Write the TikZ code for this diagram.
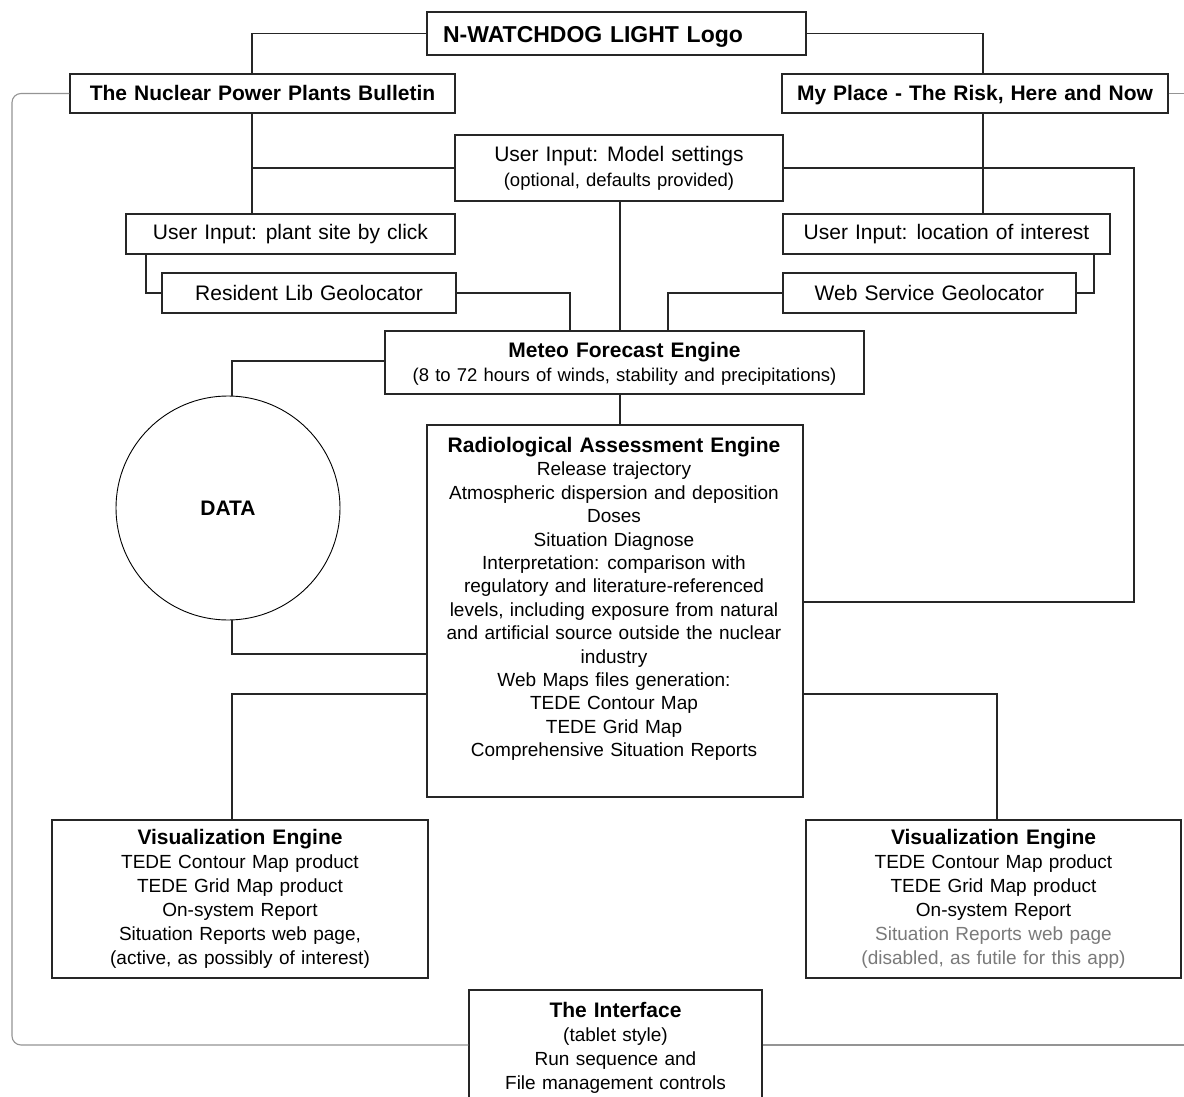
\documentclass[tikz,border=0pt]{standalone}
\usepackage{fontspec}
\setmainfont{Liberation Sans}[WordSpace={1.2}]
\begin{document}
\begin{tikzpicture}[x=1pt,y=-1pt,
  box/.style={draw=black!85, line width=1.3pt, fill=white, inner sep=0pt, align=center,
    font=\fontsize{21}{25}\selectfont},
  btitle/.style={box, font=\bfseries\fontsize{21}{25}\selectfont, text height=16.5pt, text depth=2.5pt},
  txt/.style={inner sep=0pt, align=center, font=\fontsize{19}{23.4}\selectfont},
  vtxt/.style={txt, font=\fontsize{19}{24}\selectfont},
  conn/.style={draw=black!85, line width=1.3pt},
  loopline/.style={draw=black!42, line width=1.1pt},
  databox/.style={circle, draw=black, line width=0.9pt, fill=white, inner sep=0pt,
    font=\bfseries\fontsize{21}{25}\selectfont}
]
\useasboundingbox (0,0) rectangle (1184,1097);
\clip (0,0) rectangle (1184,1097);
\fill[white] (0,0) rectangle (1184,1097);

% helper coordinates for connector bends
\coordinate (xBul) at (252,0);
\coordinate (xMP) at (983,0);
\coordinate (xPlant) at (146,0);
\coordinate (xRes) at (570,0);
\coordinate (xWeb) at (668,0);
\coordinate (xLoc) at (1094,0);
\coordinate (xMod) at (620,0);
\coordinate (xData) at (232,0);
\coordinate (xVisR) at (997,0);
\coordinate (kRight) at (1134,602);
\coordinate (yMet) at (0,361);
\coordinate (yData) at (0,654);
\coordinate (yVis) at (0,694);
\coordinate (xLoop) at (12,0);
\coordinate (yBot) at (0,1045);
\coordinate (edgeR) at (1190,0);

% boxes
\node[btitle, font=\bfseries\fontsize{23}{27}\selectfont, text height=19.5pt, text depth=1.5pt, minimum width=379pt, minimum height=43pt] (logo) at (616.5,33.5) {N-WATCHDOG LIGHT Logo\hspace*{47pt}};
\node[btitle, minimum width=385pt, minimum height=39pt] (bull) at (262.5,93.5) {The Nuclear Power Plants Bulletin};
\node[btitle, minimum width=386pt, minimum height=39pt] (mp) at (975,93.5) {My Place - The Risk, Here and Now};
\node[box, minimum width=328pt, minimum height=66pt] (model) at (619,168) {User Input: Model settings\\ \fontsize{18.5}{22}\selectfont (optional, defaults provided)};
\node[box, minimum width=329pt, minimum height=40pt] (plant) at (290.5,234) {User Input: plant site by click};
\node[box, minimum width=294pt, minimum height=40pt] (res) at (309,293) {Resident Lib Geolocator};
\node[box, minimum width=327pt, minimum height=40pt] (loc) at (946.5,234) {User Input: location of interest};
\node[box, minimum width=293pt, minimum height=40pt] (web) at (929.5,293) {Web Service Geolocator};
\node[box, minimum width=479pt, minimum height=63pt] (meteo) at (624.5,362.5) {};
\node[txt] (meteotext) at (624.5,364) {\bfseries\fontsize{21}{25}\selectfont Meteo Forecast Engine\\ \mdseries\fontsize{18.5}{24}\selectfont (8 to 72 hours of winds, stability and precipitations)};
\node[databox, minimum size=224pt] (data) at (228,508) {DATA};
\node[box, minimum width=376pt, minimum height=372pt] (rad) at (615,611) {};
\node[txt, anchor=north] (radtext) at (614,437) {\bfseries\fontsize{21}{25}\selectfont Radiological Assessment Engine\\
 \mdseries\fontsize{19}{23.4}\selectfont Release trajectory\\ Atmospheric dispersion and deposition\\ Doses\\ Situation Diagnose\\
 Interpretation: comparison with\\ regulatory and literature-referenced\\
 levels, including exposure from natural\\ and artificial source outside the nuclear\\
 industry\\ Web Maps files generation:\\ TEDE Contour Map\\ TEDE Grid Map\\ Comprehensive Situation Reports};
\node[box, minimum width=376pt, minimum height=158pt] (visL) at (240,899) {};
\node[vtxt] (visLtext) at (240,899) {\bfseries\fontsize{21}{25}\selectfont Visualization Engine\\
 \mdseries\fontsize{19}{24}\selectfont TEDE Contour Map product\\ TEDE Grid Map product\\ On-system Report\\ Situation Reports web page,\\ (active, as possibly of interest)};
\node[box, minimum width=375pt, minimum height=158pt] (visR) at (993.5,899) {};
\node[vtxt] (visRtext) at (993.5,899) {\bfseries\fontsize{21}{25}\selectfont Visualization Engine\\
 \mdseries\fontsize{19}{24}\selectfont TEDE Contour Map product\\ TEDE Grid Map product\\ On-system Report\\
 \textcolor{black!52}{Situation Reports web page}\\ \textcolor{black!52}{(disabled, as futile for this app)}};
\node[box, minimum width=293pt, minimum height=140pt] (iface) at (615.5,1060) {};
\node[vtxt, anchor=north] (ifacetext) at (615.5,1002) {\bfseries\fontsize{21}{25}\selectfont The Interface\\
 \mdseries\fontsize{19}{24}\selectfont (tablet style)\\ Run sequence and\\ File management controls};

% connectors
\draw[conn] (logo.west) -| (xBul |- bull.north);
\draw[conn] (logo.east) -| (xMP |- mp.north);
\draw[conn] (xBul |- bull.south) -- (xBul |- plant.north);
\draw[conn] (xBul |- model.west) -- (model.west);
\draw[conn] (xMP |- mp.south) -- (xMP |- loc.north);
\draw[conn] (model.east) -| (kRight) -- (kRight -| rad.east);
\draw[conn] (xPlant |- plant.south) |- (res.west);
\draw[conn] (res.east) -| (xRes |- meteo.north);
\draw[conn] (xLoc |- loc.south) |- (web.east);
\draw[conn] (web.west) -| (xWeb |- meteo.north);
\draw[conn] (xMod |- model.south) -- (xMod |- meteo.north);
\draw[conn] (meteo.west |- yMet) -| (xData |- data.north);
\draw[conn] (xData |- data.south) |- (rad.west |- yData);
\draw[conn] (xMod |- meteo.south) -- (xMod |- rad.north);
\draw[conn] (rad.west |- yVis) -| (xData |- visL.north);
\draw[conn] (rad.east |- yVis) -| (xVisR |- visR.north);

% grey loop line
\draw[loopline, rounded corners=9pt] (bull.west) -| (xLoop |- yBot) -- (iface.west |- yBot);
\draw[loopline] (iface.east |- yBot) -- (edgeR |- yBot);
\draw[loopline] (mp.east) -- (edgeR |- mp.east);
\end{tikzpicture}
\end{document}
